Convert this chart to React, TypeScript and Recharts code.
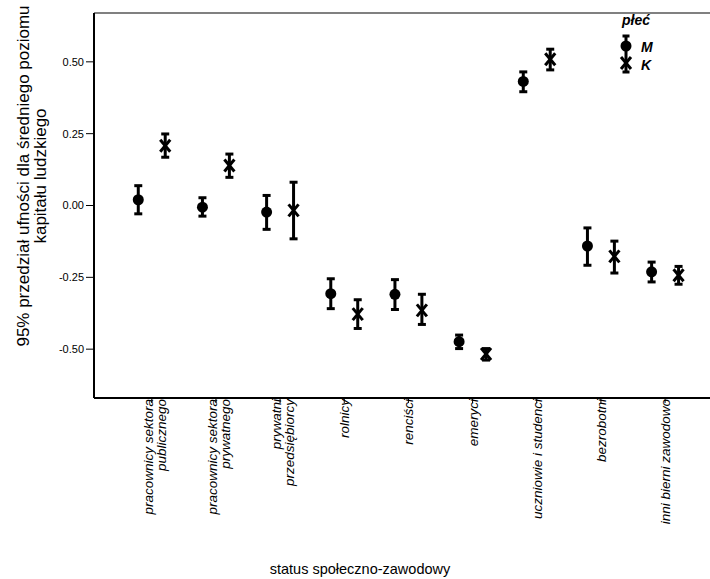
import React from 'react';
import { ScatterChart, Scatter, XAxis, YAxis, ErrorBar, ReferenceLine, Legend } from 'recharts';

document.body.style.margin = '0';

const FONT = '"Liberation Sans", Arial, sans-serif';

// kategorie (linie etykiet)
const categories: string[][] = [
  ['pracownicy sektora', 'publicznego'],
  ['pracownicy sektora', 'prywatnego'],
  ['prywatni', 'przedsiębiorcy'],
  ['rolnicy'],
  ['renciści'],
  ['emeryci'],
  ['uczniowie i studenci'],
  ['bezrobotni'],
  ['inni bierni zawodowo'],
];

// M - mężczyźni
const mMean = [0.02, -0.006, -0.023, -0.307, -0.309, -0.474, 0.432, -0.141, -0.231];
const mLow = [-0.029, -0.037, -0.083, -0.359, -0.362, -0.498, 0.396, -0.208, -0.266];
const mHigh = [0.069, 0.027, 0.035, -0.255, -0.258, -0.451, 0.465, -0.078, -0.197];

// K - kobiety
const kMean = [0.208, 0.139, -0.017, -0.378, -0.365, -0.517, 0.509, -0.177, -0.243];
const kLow = [0.168, 0.098, -0.116, -0.428, -0.414, -0.538, 0.472, -0.235, -0.274];
const kHigh = [0.249, 0.179, 0.081, -0.328, -0.309, -0.498, 0.544, -0.124, -0.212];

const yTicks = [-0.5, -0.25, 0, 0.25, 0.5];
const catTicks = categories.map((_, i) => i);

const buildSeries = (mean: number[], low: number[], high: number[], shift: number) =>
  mean.map((v, i) => ({ x: i + shift, y: v, err: [v - low[i], high[i] - v] }));

const mData = buildSeries(mMean, mLow, mHigh, -0.21);
const kData = buildSeries(kMean, kLow, kHigh, 0.21);

const Dot = (props: any) => <circle cx={props.cx} cy={props.cy} r={5.5} fill="#000" />;

const Cross = (props: any) => {
  const { cx, cy } = props;
  return (
    <g stroke="#000" strokeWidth={3}>
      <line x1={cx - 5} y1={cy - 6} x2={cx + 5} y2={cy + 6} />
      <line x1={cx - 5} y1={cy + 6} x2={cx + 5} y2={cy - 6} />
    </g>
  );
};

const CatTick = (props: any) => {
  const { x, y, payload } = props;
  const lines = categories[payload.value] || [];
  const top = y - 6;
  return (
    <g>
      {lines.map((line, j) => {
        const bx = lines.length === 1 ? x + 5 : x + 1 + j * 13;
        return (
          <text
            key={j}
            x={bx}
            y={top}
            transform={`rotate(-90, ${bx}, ${top})`}
            textAnchor="end"
            fontFamily={FONT}
            fontStyle="italic"
            fontSize={13.5}
            fill="#000"
          >
            {line}
          </text>
        );
      })}
    </g>
  );
};

const YTitle = () => (
  <g fontFamily={FONT} fontSize={17} fill="#000">
    <text x={29} y={176} transform="rotate(-90, 29, 176)" textAnchor="middle">
      95% przedział ufności dla średniego poziomu
    </text>
    <text x={46} y={176} transform="rotate(-90, 46, 176)" textAnchor="middle">
      kapitału ludzkiego
    </text>
  </g>
);

const XTitle = () => (
  <text x={360} y={574} textAnchor="middle" fontFamily={FONT} fontSize={14.5} fill="#000">
    status społeczno-zawodowy
  </text>
);

const LegendBox = () => (
  <svg width={70} height={70} style={{ overflow: 'visible' }}>
    <text x={9} y={13} fontFamily={FONT} fontSize={14} fontWeight="bold" fontStyle="italic">
      płeć
    </text>
    <g stroke="#000" strokeWidth={3}>
      <line x1={13} y1={23} x2={13} y2={61} />
      <line x1={9.5} y1={24} x2={16.5} y2={24} />
      <line x1={9.5} y1={60} x2={16.5} y2={60} />
      <line x1={8} y1={45} x2={18} y2={57} />
      <line x1={8} y1={57} x2={18} y2={45} />
    </g>
    <circle cx={13} cy={34} r={5.5} fill="#000" />
    <text x={28} y={40} fontFamily={FONT} fontSize={14} fontWeight="bold" fontStyle="italic">M</text>
    <text x={28} y={58} fontFamily={FONT} fontSize={14} fontWeight="bold" fontStyle="italic">K</text>
  </svg>
);

export default function App() {
  return (
    <div style={{ width: 710, height: 579, position: 'relative', background: '#fff' }}>
      <ScatterChart width={710} height={579} margin={{ top: 13, right: 0, bottom: 0, left: 0 }}>
        <XAxis
          type="number"
          dataKey="x"
          domain={[-0.9, 8.7]}
          ticks={catTicks}
          interval={0}
          height={181}
          tick={<CatTick />}
          tickSize={5}
          axisLine={{ stroke: '#000', strokeWidth: 2 }}
          tickLine={{ stroke: '#000', strokeWidth: 1 }}
          allowDataOverflow
          label={{ content: () => <XTitle /> }}
        />
        <YAxis
          type="number"
          dataKey="y"
          domain={[-0.67, 0.67]}
          ticks={yTicks}
          width={94}
          allowDataOverflow
          tickSize={8}
          tickFormatter={(v: number) => v.toFixed(2)}
          tick={{ fontFamily: FONT, fontSize: 11, fill: '#000' }}
          axisLine={{ stroke: '#000', strokeWidth: 2 }}
          tickLine={{ stroke: '#000', strokeWidth: 1 }}
          label={{ content: () => <YTitle /> }}
        />
        <ReferenceLine y={0.67} stroke="#808080" strokeWidth={2} />
        <Scatter name="M" data={mData} shape={<Dot />} isAnimationActive={false}>
          <ErrorBar dataKey="err" direction="y" width={4} stroke="#000" strokeWidth={3} />
        </Scatter>
        <Scatter name="K" data={kData} shape={<Cross />} isAnimationActive={false}>
          <ErrorBar dataKey="err" direction="y" width={4} stroke="#000" strokeWidth={3} />
        </Scatter>
        <Legend
          layout="vertical"
          align="center"
          verticalAlign="middle"
          content={() => <LegendBox />}
          wrapperStyle={{ position: 'absolute', top: 12, left: 613, width: 70, height: 70 }}
        />
      </ScatterChart>
    </div>
  );
}
